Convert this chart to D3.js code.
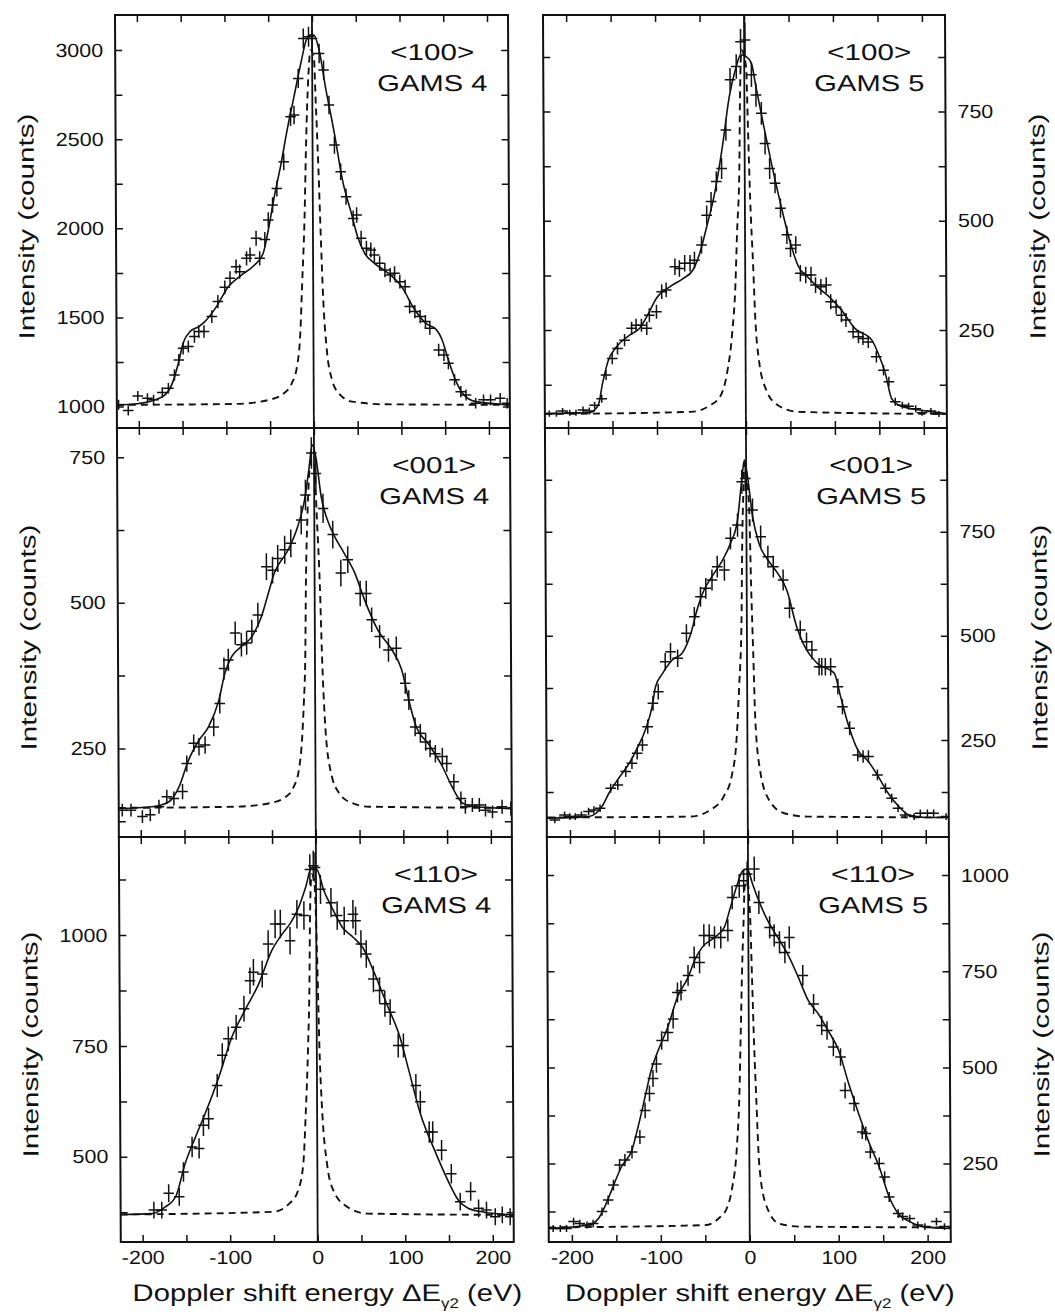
<!DOCTYPE html>
<html>
<head>
<meta charset="utf-8">
<script src="https://cdn.jsdelivr.net/npm/d3@7"></script>
<style>
  html, body { margin: 0; padding: 0; background: #fff; }
  svg { display: block; }
  text { font-family: "Liberation Sans", Arial, Helvetica, sans-serif; fill: #111; }
</style>
</head>
<body>
<svg id="fig" width="1055" height="1316"></svg>
<script>
// ---- labels ----
const directions = ["<100>", "<001>", "<110>"];
const spectrometers = ["GAMS 4", "GAMS 5"];
const energyTicks = [-200, -150, -100, -50, 0, 50, 100, 150, 200];
const energyLabels = [-200, -100, 0, 100, 200];
const xDomainG4 = [-225, 224];
const xDomainG5 = [-226, 226];

// ---- <100>, GAMS 4 ----
const yDomain100g4 = [880, 3197];
const yTicks100g4 = [1000, 1250, 1500, 1750, 2000, 2250, 2500, 2750, 3000];
const yLabels100g4 = [1000, 1500, 2000, 2500, 3000];
// [energy (eV), counts, error]
const pts100g4 = [[-223,1010,28],[-212,978,28],[-201,1060,28],[-190,1047,28],[-183,1038,28],[-173,1079,30],[-166,1103,30],[-159,1178,32],[-154,1262,33],[-149,1327,34],[-143,1337,34],[-136,1393,35],[-131,1421,35],[-125,1421,35],[-116,1505,36],[-109,1589,37],[-101,1669,38],[-95,1720,39],[-88,1785,40],[-84,1757,40],[-76,1832,40],[-72,1851,41],[-65,1944,42],[-61,1832,40],[-55,1938,42],[-51,2047,43],[-46,2131,44],[-41,2224,45],[-33,2374,48],[-25,2626,52],[-21,2636,52],[-16,2841,54],[-10,3065,56],[-4,3075,56],[0,3065,56],[8,2981,55],[13,2888,54],[19,2692,52],[25,2467,49],[32,2318,47],[38,2178,45],[46,2056,44],[50,2075,44],[55,1944,42],[61,1888,42],[66,1879,42],[70,1851,41],[76,1804,40],[82,1766,40],[88,1738,40],[93,1748,40],[99,1701,39],[105,1673,39],[110,1561,38],[116,1533,37],[122,1505,37],[128,1477,37],[133,1439,36],[143,1318,35],[149,1290,34],[154,1243,33],[161,1150,32],[168,1084,31],[174,1065,31],[185,1019,30],[194,1038,30],[202,1038,30],[213,1047,30],[221,1019,30]];
const fit100g4 = [[-225,1010],[-204,1015],[-181,1038],[-168,1075],[-160,1150],[-154,1253],[-149,1355],[-141,1421],[-131,1449],[-124,1477],[-112,1551],[-97,1673],[-82,1738],[-67,1794],[-57,1860],[-51,1991],[-44,2178],[-36,2365],[-29,2551],[-21,2738],[-13,2925],[-6,3065],[-3,3084],[2,3084],[8,3000],[15,2794],[25,2533],[34,2271],[44,2084],[51,1953],[59,1860],[70,1804],[86,1748],[101,1673],[116,1542],[131,1458],[139,1439],[147,1374],[154,1262],[162,1150],[170,1075],[185,1028],[224,1010]];
const peak100g4 = [[-225,1010],[-89,1015],[-51,1038],[-34,1075],[-25,1131],[-19,1224],[-15,1411],[-12.6,1692],[-9.5,2065],[-7.6,2439],[-5.7,2720],[-3.8,2907],[-1.9,3000],[1.9,2963],[3.8,2720],[6.5,2346],[8.8,1972],[11.4,1598],[15.2,1318],[21,1150],[28.6,1075],[43.8,1028],[82,1013],[224,1010]];

// ---- <100>, GAMS 5 ----
const yDomain100g5 = [26, 971];
const yTicks100g5 = [125, 250, 375, 500, 625, 750, 875];
const yLabels100g5 = [250, 500, 750];
const pts100g5 = [[-221,59,7],[-213,59,7],[-206,65,7],[-198,61,7],[-191,61,7],[-183,67,8],[-176,65,8],[-170,78,8],[-162,93,9],[-157,147,11],[-150,185,13],[-144,208,14],[-136,227,14],[-128,254,15],[-123,261,15],[-117,261,15],[-111,254,15],[-108,284,16],[-100,292,16],[-94,338,17],[-89,342,17],[-79,395,19],[-74,391,19],[-68,403,19],[-62,403,19],[-57,410,19],[-49,445,20],[-43,513,22],[-38,544,22],[-32,590,23],[-26,620,24],[-21,708,25],[-16,823,27],[-9,853,28],[-4,910,29],[1,914,40],[8,834,28],[13,788,27],[19,746,26],[23,677,25],[28,620,24],[34,586,23],[40,529,22],[47,468,21],[51,437,20],[57,445,20],[62,380,19],[68,376,19],[74,376,19],[79,353,18],[85,349,18],[91,353,18],[96,315,17],[102,303,17],[108,284,16],[113,273,16],[121,246,15],[127,235,15],[132,231,15],[138,223,14],[147,189,13],[155,158,12],[161,132,11],[168,86,9],[176,78,8],[183,76,8],[191,70,8],[198,61,7],[208,65,7],[217,58,7]];
const fit100g5 = [[-226,59],[-176,61],[-166,78],[-161,128],[-155,177],[-145,212],[-130,239],[-119,254],[-109,288],[-100,323],[-85,349],[-70,368],[-59,387],[-51,426],[-43,487],[-34,563],[-25,670],[-17,784],[-9,853],[-4,880],[2,876],[8,861],[13,807],[21,723],[30,632],[40,540],[51,449],[60,395],[70,372],[81,349],[96,323],[108,296],[123,254],[142,227],[149,197],[157,151],[164,93],[172,78],[195,67],[226,59]];
const peak100g5 = [[-226,58],[-62,63],[-40,78],[-28,101],[-21,151],[-15,242],[-11,357],[-9,471],[-6,624],[-5,777],[-3,891],[2,853],[4,700],[6,548],[9,395],[11,281],[15,181],[23,113],[36,78],[59,63],[226,58]];

// ---- <001>, GAMS 4 ----
const yDomain001g4 = [98, 800];
const yTicks001g4 = [125, 250, 375, 500, 625, 750];
const yLabels001g4 = [250, 500, 750];
const pts001g4 = [[-221,144,11],[-211,144,11],[-198,133,11],[-189,136,11],[-179,150,12],[-170,167,12],[-162,164,12],[-152,176,13],[-147,224,14],[-139,259,15],[-133,253,15],[-126,256,15],[-116,287,16],[-109,327,17],[-104,387,19],[-99,402,19],[-91,448,20],[-84,428,20],[-78,431,20],[-72,451,20],[-65,479,21],[-55,562,23],[-48,556,23],[-42,576,23],[-34,591,24],[-27,602,24],[-15,642,25],[-10,685,26],[-3,757,27],[2,722,26],[10,662,25],[21,617,24],[30,551,23],[38,574,23],[52,516,22],[59,516,22],[65,471,21],[74,442,20],[84,419,20],[93,422,20],[103,362,18],[107,333,17],[114,287,16],[120,276,16],[126,261,15],[131,250,15],[137,241,15],[145,236,15],[150,224,14],[158,193,13],[166,164,12],[171,150,12],[179,153,12],[187,153,12],[194,144,11],[202,141,11],[213,150,12],[223,147,12]];
const fit001g4 = [[-225,147],[-187,150],[-168,158],[-156,184],[-145,230],[-133,264],[-122,287],[-110,333],[-103,379],[-95,408],[-84,425],[-72,442],[-61,476],[-53,516],[-46,551],[-30,591],[-19,631],[-11,677],[-6,728],[-2,771],[2,751],[8,682],[15,642],[23,614],[34,585],[46,551],[57,505],[72,453],[88,419],[99,385],[107,333],[114,293],[130,256],[145,219],[156,184],[168,156],[183,150],[224,147]];
const peak001g4 = [[-225,148],[-91,150],[-53,156],[-34,167],[-25,184],[-19,213],[-15,270],[-13,327],[-11,413],[-10,528],[-8,642],[-6,711],[-4,745],[0,740],[3,642],[6,528],[8,413],[11,299],[17,213],[27,173],[42,156],[61,150],[224,148]];

// ---- <001>, GAMS 5 ----
const yDomain001g5 = [17, 999];
const yTicks001g5 = [125, 250, 375, 500, 625, 750, 875];
const yLabels001g5 = [250, 500, 750];
const pts001g5 = [[-217,58,8],[-206,70,8],[-200,66,8],[-194,66,8],[-187,70,8],[-179,78,9],[-173,82,9],[-166,86,9],[-154,134,11],[-146,142,12],[-137,174,13],[-130,194,14],[-124,218,15],[-118,238,15],[-112,282,17],[-106,338,18],[-100,366,19],[-92,438,21],[-86,462,21],[-78,446,21],[-68,506,22],[-59,546,23],[-52,594,24],[-46,614,25],[-39,634,25],[-33,666,26],[-25,658,26],[-18,734,27],[-10,766,28],[-5,870,29],[-1,878,30],[7,802,28],[16,738,27],[24,690,26],[30,666,26],[41,634,25],[48,566,24],[60,514,23],[67,486,22],[73,466,22],[81,426,21],[84,426,21],[88,426,21],[94,426,21],[102,378,19],[107,330,18],[115,278,17],[124,214,15],[130,210,15],[136,210,15],[146,166,13],[155,134,12],[162,110,11],[169,86,9],[177,70,8],[187,66,8],[194,74,9],[202,74,9],[209,74,9],[223,66,8]];
const fit001g5 = [[-226,62],[-179,66],[-164,90],[-156,122],[-145,158],[-133,194],[-124,230],[-114,278],[-107,330],[-103,378],[-95,410],[-84,442],[-73,458],[-63,506],[-56,562],[-48,610],[-39,642],[-27,682],[-18,722],[-10,778],[-5,874],[-2,922],[1,890],[7,786],[14,722],[24,682],[35,650],[45,610],[56,522],[67,466],[79,434],[98,410],[105,354],[113,290],[124,226],[136,198],[147,162],[158,122],[170,90],[181,70],[200,64],[226,64]];
const peak001g5 = [[-226,64],[-65,66],[-42,82],[-27,114],[-18,162],[-12,258],[-9,378],[-6,538],[-5,698],[-3,858],[-2,914],[3,818],[5,618],[7,458],[9,298],[14,178],[24,106],[41,74],[67,66],[226,64]];

// ---- <110>, GAMS 4 ----
const yDomain110g4 = [308, 1221];
const yTicks110g4 = [375, 500, 625, 750, 875, 1000, 1125];
const yLabels110g4 = [500, 750, 1000];
const pts110g4 = [[-187,380,19],[-178,380,19],[-170,418,20],[-158,410,20],[-153,466,22],[-143,522,23],[-135,519,23],[-130,571,24],[-124,586,24],[-114,661,26],[-108,729,27],[-101,766,28],[-92,792,28],[-83,834,29],[-76,897,30],[-72,916,30],[-62,912,30],[-55,980,31],[-47,1025,32],[-41,1025,32],[-30,987,31],[-22,1047,32],[-14,1044,32],[-7,1148,34],[-3,1156,34],[-1,1152,34],[5,1103,33],[17,1073,33],[24,1044,32],[32,1032,32],[42,1047,32],[45,1032,32],[51,980,31],[57,957,31],[65,901,30],[72,875,30],[78,845,29],[84,826,29],[93,751,27],[99,751,27],[113,661,26],[118,624,25],[128,556,24],[132,556,24],[142,515,23],[153,462,22],[163,399,20],[175,422,21],[184,384,20],[193,380,19],[203,365,19],[211,369,19],[220,365,19]];
const fit110g4 = [[-225,370],[-189,372],[-174,387],[-162,410],[-151,485],[-139,545],[-128,597],[-112,680],[-97,770],[-82,830],[-66,890],[-51,965],[-39,1002],[-30,1025],[-20,1062],[-12,1107],[-5,1152],[1,1148],[9,1100],[18,1062],[30,1017],[42,995],[53,972],[65,920],[80,845],[95,770],[105,695],[118,597],[134,515],[149,447],[161,402],[172,384],[188,376],[224,369]];
const peak110g4 = [[-225,370],[-51,376],[-32,395],[-22,425],[-16,485],[-13,597],[-10,747],[-8,897],[-7,1047],[-5,1137],[-2,1122],[1,935],[3,747],[6,597],[11,485],[18,425],[34,387],[57,372],[224,369]];

// ---- <110>, GAMS 5 ----
const yDomain110g5 = [46, 1099];
const yTicks110g5 = [125, 250, 375, 500, 625, 750, 875, 1000];
const yLabels110g5 = [250, 500, 750, 1000];
const pts110g5 = [[-221,81,9],[-213,81,9],[-206,81,9],[-198,99,10],[-191,94,10],[-183,90,9],[-176,94,10],[-166,125,11],[-159,155,12],[-153,194,14],[-146,246,16],[-140,259,16],[-132,280,17],[-123,319,18],[-117,388,20],[-112,432,21],[-108,471,22],[-104,509,23],[-98,570,24],[-91,591,24],[-85,626,25],[-80,695,26],[-76,700,26],[-68,739,27],[-61,786,28],[-55,773,28],[-50,843,29],[-44,843,29],[-38,838,29],[-31,838,29],[-23,856,29],[-18,942,31],[-10,972,31],[-5,985,31],[-1,1003,32],[7,1016,32],[12,929,30],[24,864,29],[29,843,29],[35,825,29],[41,799,28],[46,838,29],[61,739,27],[73,665,26],[82,609,25],[88,596,24],[95,553,24],[103,527,23],[108,440,21],[118,406,20],[127,332,18],[131,328,18],[136,280,17],[146,250,16],[152,215,15],[157,163,13],[167,120,11],[172,112,11],[180,107,10],[189,90,9],[197,86,9],[210,99,10],[219,86,9]];
const fit110g5 = [[-226,81],[-181,90],[-170,107],[-162,142],[-155,181],[-144,241],[-132,285],[-125,345],[-117,423],[-110,492],[-102,544],[-91,605],[-80,683],[-68,734],[-59,786],[-52,812],[-38,838],[-27,864],[-20,916],[-12,977],[-6,1011],[-1,1016],[5,977],[12,933],[22,881],[33,838],[44,795],[56,734],[67,674],[78,640],[89,596],[101,544],[112,458],[123,380],[135,302],[146,241],[157,163],[167,120],[180,99],[195,86],[226,81]];
const peak110g5 = [[-226,84],[-50,90],[-35,107],[-25,137],[-20,181],[-14,293],[-11,423],[-9,596],[-7,769],[-5,899],[-4,968],[-1,985],[2,899],[4,726],[6,553],[8,423],[11,250],[18,146],[33,94],[56,86],[226,84]];

// ---- page layout ----
const colX = [[115, 508], [543, 945]];
const rowY = [[15, 428], [428, 837], [837, 1242]];
const binHalf = 6;          // half width of each energy bin (eV)
const tickLen = 7;

const panels = [
  { row: 0, col: 0, xDomain: xDomainG4, yDomain: yDomain100g4, yTicks: yTicks100g4, yLabels: yLabels100g4, pts: pts100g4, fit: fit100g4, peak: peak100g4, dir: directions[0], det: spectrometers[0] },
  { row: 0, col: 1, xDomain: xDomainG5, yDomain: yDomain100g5, yTicks: yTicks100g5, yLabels: yLabels100g5, pts: pts100g5, fit: fit100g5, peak: peak100g5, dir: directions[0], det: spectrometers[1] },
  { row: 1, col: 0, xDomain: xDomainG4, yDomain: yDomain001g4, yTicks: yTicks001g4, yLabels: yLabels001g4, pts: pts001g4, fit: fit001g4, peak: peak001g4, dir: directions[1], det: spectrometers[0] },
  { row: 1, col: 1, xDomain: xDomainG5, yDomain: yDomain001g5, yTicks: yTicks001g5, yLabels: yLabels001g5, pts: pts001g5, fit: fit001g5, peak: peak001g5, dir: directions[1], det: spectrometers[1] },
  { row: 2, col: 0, xDomain: xDomainG4, yDomain: yDomain110g4, yTicks: yTicks110g4, yLabels: yLabels110g4, pts: pts110g4, fit: fit110g4, peak: peak110g4, dir: directions[2], det: spectrometers[0] },
  { row: 2, col: 1, xDomain: xDomainG5, yDomain: yDomain110g5, yTicks: yTicks110g5, yLabels: yLabels110g5, pts: pts110g5, fit: fit110g5, peak: peak110g5, dir: directions[2], det: spectrometers[1] }
];

const svg = d3.select("#fig");
svg.append("rect").attr("width", 1055).attr("height", 1316).attr("fill", "#fff");
// the whole sheet leans slightly to the right toward the bottom
const root = svg.append("g").attr("transform", "translate(0,15) skewX(0.27) translate(0,-15)");

function stretch(sel, factor) {
  sel.each(function () {
    const t = d3.select(this);
    if (!t.text()) return;
    const w = this.getComputedTextLength();
    t.attr("textLength", w * factor).attr("lengthAdjust", "spacingAndGlyphs");
  });
}

function styleAxis(g) {
  g.select(".domain").remove();
  g.selectAll(".tick line").attr("stroke", "#111").attr("stroke-width", 1.5);
  g.selectAll(".tick text").attr("font-size", 19).attr("fill", "#111")
    .style("font-family", "'Liberation Sans', Arial, sans-serif");
  stretch(g.selectAll(".tick text"), 1.13);
}

panels.forEach((p, i) => {
  const [x0, x1] = colX[p.col];
  const [y0, y1] = rowY[p.row];
  const x = d3.scaleLinear().domain(p.xDomain).range([x0, x1]);
  const y = d3.scaleLinear().domain(p.yDomain).range([y1, y0]);
  const g = root.append("g");

  const clipId = "clip" + i;
  g.append("clipPath").attr("id", clipId).append("rect")
    .attr("x", x0).attr("y", y0).attr("width", x1 - x0).attr("height", y1 - y0);
  const plot = g.append("g").attr("clip-path", `url(#${clipId})`);

  const line = d3.line().x(d => x(d[0])).y(d => y(d[1])).curve(d3.curveMonotoneX);

  // narrow line-shape component (dashed)
  plot.append("path").datum(p.peak).attr("d", line)
    .attr("fill", "none").attr("stroke", "#111").attr("stroke-width", 1.9)
    .attr("stroke-dasharray", "7,5");

  // full fitted profile
  plot.append("path").datum(p.fit).attr("d", line)
    .attr("fill", "none").attr("stroke", "#111").attr("stroke-width", 1.6);

  // zero-shift marker
  plot.append("line")
    .attr("x1", x(0)).attr("x2", x(0)).attr("y1", y0).attr("y2", y1)
    .attr("stroke", "#111").attr("stroke-width", 1.8);

  // measured points with error bars
  const pt = plot.append("g").attr("stroke", "#111").attr("stroke-width", 1.5)
    .selectAll("g").data(p.pts).join("g");
  pt.append("line")
    .attr("x1", d => x(d[0] - binHalf)).attr("x2", d => x(d[0] + binHalf))
    .attr("y1", d => y(d[1])).attr("y2", d => y(d[1]));
  pt.append("line")
    .attr("x1", d => x(d[0])).attr("x2", d => x(d[0]))
    .attr("y1", d => y(d[1] - d[2])).attr("y2", d => y(d[1] + d[2]));

  // axes with inward ticks on all four sides
  const isBottom = p.row === 2;
  g.append("g").attr("transform", `translate(0,${y1})`)
    .call(d3.axisBottom(x).tickValues(energyTicks).tickSize(-tickLen).tickSizeOuter(0).tickPadding(9)
      .tickFormat(d => (isBottom && energyLabels.includes(d)) ? String(d) : ""))
    .call(styleAxis);
  g.append("g").attr("transform", `translate(0,${y0})`)
    .call(d3.axisTop(x).tickValues(energyTicks).tickSize(-tickLen).tickSizeOuter(0).tickFormat(""))
    .call(styleAxis);
  g.append("g").attr("transform", `translate(${x0},0)`)
    .call(d3.axisLeft(y).tickValues(p.yTicks).tickSize(-tickLen).tickSizeOuter(0).tickPadding(12)
      .tickFormat(d => (p.col === 0 && p.yLabels.includes(d)) ? String(d) : ""))
    .call(styleAxis);
  g.append("g").attr("transform", `translate(${x1},0)`)
    .call(d3.axisRight(y).tickValues(p.yTicks).tickSize(-tickLen).tickSizeOuter(0).tickPadding(12)
      .tickFormat(d => (p.col === 1 && p.yLabels.includes(d)) ? String(d) : ""))
    .call(styleAxis);

  // frame
  g.append("rect").attr("x", x0).attr("y", y0).attr("width", x1 - x0).attr("height", y1 - y0)
    .attr("fill", "none").attr("stroke", "#111").attr("stroke-width", 2);

  // orientation / spectrometer tag
  const cx = x1 - 76;
  g.append("text").attr("x", cx).attr("y", y0 + 45).attr("text-anchor", "middle")
    .attr("font-size", 23).text(p.dir)
    .attr("textLength", 84).attr("lengthAdjust", "spacingAndGlyphs");
  g.append("text").attr("x", cx).attr("y", y0 + 76).attr("text-anchor", "middle")
    .attr("font-size", 23).text(p.det)
    .attr("textLength", 110).attr("lengthAdjust", "spacingAndGlyphs");

  // y-axis titles
  const yc = (y0 + y1) / 2 + 5;
  const tx = p.col === 0 ? 33 : 1044;
  g.append("text").attr("transform", `translate(${tx},${yc}) rotate(-90)`)
    .attr("text-anchor", "middle").attr("font-size", 22)
    .text("Intensity (counts)")
    .attr("textLength", 226).attr("lengthAdjust", "spacingAndGlyphs");
});

// x-axis titles under each column
colX.forEach(([x0, x1]) => {
  const cx = (x0 + x1) / 2 + 10;
  const holder = root.append("g");
  const t = holder.append("text").attr("font-size", 24).attr("x", 0).attr("y", 0);
  t.append("tspan").text("Doppler shift energy \u0394E");
  t.append("tspan").attr("font-size", 14).attr("dy", 7).text("\u03b32");
  t.append("tspan").attr("dy", -7).text(" (eV)");
  const bb = t.node().getBBox();
  const s = 390 / bb.width;
  holder.attr("transform", `translate(${cx - 195},1301) scale(${s},1) translate(${-bb.x},0)`);
});
</script>
</body>
</html>
